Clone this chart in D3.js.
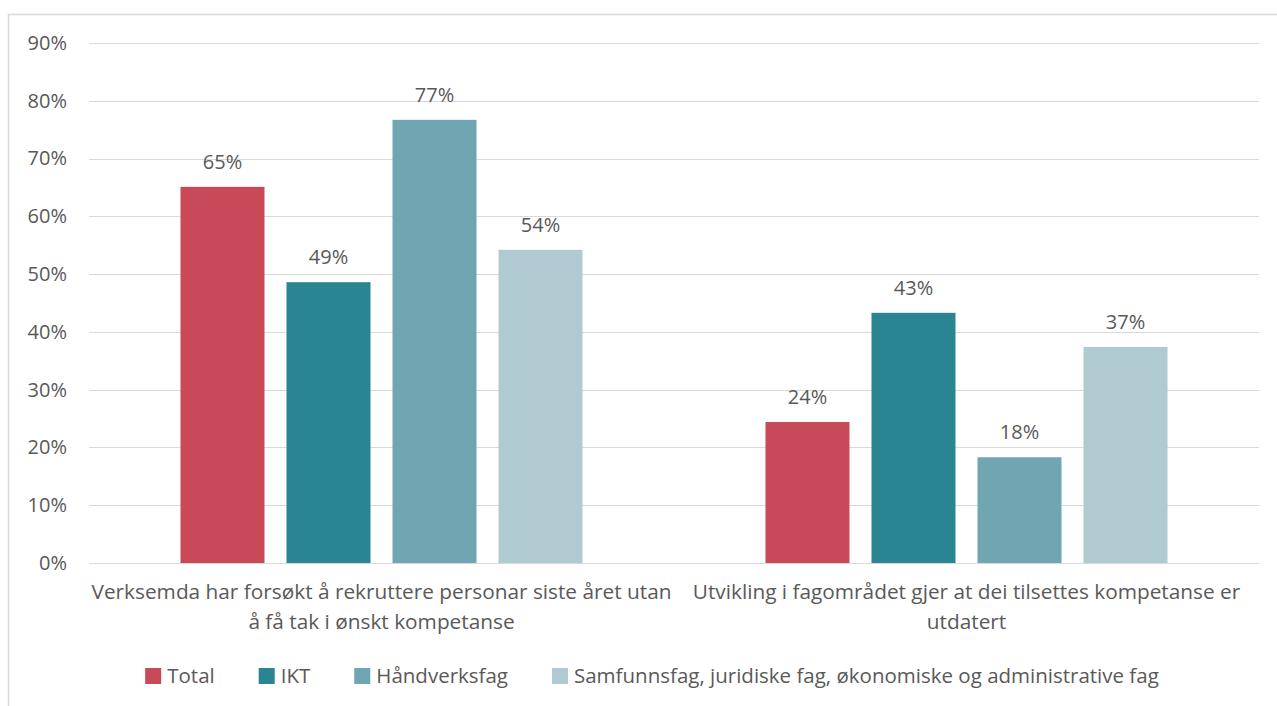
<!DOCTYPE html>
<html>
<head>
<meta charset="utf-8">
<script src="https://cdn.jsdelivr.net/npm/d3@7"></script>
<style>
  body { margin: 0; background: #fff; }
  text { font-family: "Open Sans", sans-serif; fill: #595959; }
</style>
</head>
<body>
<div id="chart"></div>
<script>
var width = 1277,
    height = 706;

var categories = [
  ["Verksemda har forsøkt å rekruttere personar siste året utan", "å få tak i ønskt kompetanse"],
  ["Utvikling i fagområdet gjer at dei tilsettes kompetanse er", "utdatert"]
];
var seriesNames = ["Total", "IKT", "Håndverksfag", "Samfunnsfag, juridiske fag, økonomiske og administrative fag"];
var colors = ["#C84A59", "#2A8593", "#70A5B2", "#B0CAD1"];
var labels = [
  ["65%", "49%", "77%", "54%"],
  ["24%", "43%", "18%", "37%"]
];
var yTicks = [0, 10, 20, 30, 40, 50, 60, 70, 80, 90];

// bar heights
var heights = [
  [65.1, 48.6, 76.7, 54.2],
  [24.4, 43.3, 18.3, 37.4]
];

var margin = {left: 89, right: 18, top: 43, bottom: 143};

var svg = d3.select("#chart")
  .append("svg")
  .attr("width", width)
  .attr("height", height);

// outer frame
svg.append("rect")
  .attr("x", 8.5).attr("y", 14.5)
  .attr("width", width + 10).attr("height", height + 10)
  .attr("fill", "none")
  .attr("stroke", "#d9d9d9")
  .attr("stroke-width", 1.5);

var y = d3.scaleLinear().domain([0, 90]).range([height - margin.bottom, margin.top]);

var x0 = d3.scaleBand()
  .domain([0, 1])
  .range([margin.left, width - margin.right]);

var x1 = d3.scaleBand()
  .domain(d3.range(seriesNames.length))
  .range([0, x0.bandwidth()])
  .paddingInner(0.2075)
  .paddingOuter(0.863);

// grid
svg.append("g").selectAll("line")
  .data(yTicks)
  .enter().append("line")
  .attr("x1", margin.left).attr("x2", width - margin.right)
  .attr("y1", function(d) { return Math.round(y(d)) + 0.5; })
  .attr("y2", function(d) { return Math.round(y(d)) + 0.5; })
  .attr("stroke", "#d9d9d9")
  .attr("stroke-width", 1);

// y axis labels
var yAxis = d3.axisLeft(y).tickValues(yTicks).tickSize(0).tickPadding(22)
  .tickFormat(function(d) { return d + "%"; });
svg.append("g")
  .attr("transform", "translate(" + margin.left + ",0)")
  .call(yAxis)
  .call(function(g) { g.select(".domain").remove(); })
  .selectAll("text")
  .style("font-family", "'Open Sans', sans-serif")
  .style("font-size", "20px")
  .attr("fill", "#595959");

// bars
var groups = svg.append("g").selectAll("g")
  .data(heights)
  .enter().append("g")
  .attr("transform", function(d, i) { return "translate(" + x0(i) + ",0)"; });

groups.selectAll("rect")
  .data(function(d) { return d; })
  .enter().append("rect")
  .attr("x", function(d, j) { return x1(j); })
  .attr("width", x1.bandwidth())
  .attr("y", function(d) { return y(d); })
  .attr("height", function(d) { return y(0) - y(d); })
  .attr("fill", function(d, j) { return colors[j]; });

groups.selectAll("text")
  .data(function(d, i) { return d.map(function(v, j) { return {v: v, t: labels[i][j]}; }); })
  .enter().append("text")
  .attr("x", function(d, j) { return x1(j) + x1.bandwidth() / 2; })
  .attr("y", function(d) { return y(d.v) - 18; })
  .attr("text-anchor", "middle")
  .style("font-size", "20px")
  .text(function(d) { return d.t; });

// category labels
categories.forEach(function(lines, i) {
  var t = svg.append("text")
    .attr("text-anchor", "middle")
    .style("font-size", "20.8px");
  lines.forEach(function(line, k) {
    t.append("tspan")
      .attr("x", x0(i) + x0.bandwidth() / 2)
      .attr("y", 599 + k * 30)
      .text(line);
  });
});

// legend
var legend = svg.append("g");
var lx = 0;
seriesNames.forEach(function(name, j) {
  var item = legend.append("g").attr("transform", "translate(" + lx + ",0)");
  item.append("rect")
    .attr("x", 0).attr("y", -8)
    .attr("width", 16).attr("height", 16)
    .attr("fill", colors[j]);
  var t = item.append("text")
    .attr("x", 22).attr("y", 7)
    .style("font-size", "20.5px")
    .text(name);
  lx += 22 + t.node().getComputedTextLength() + 44;
});
var legendWidth = lx - 44;
legend.attr("transform", "translate(" + (652 - legendWidth / 2) + ",676)");
</script>
</body>
</html>
